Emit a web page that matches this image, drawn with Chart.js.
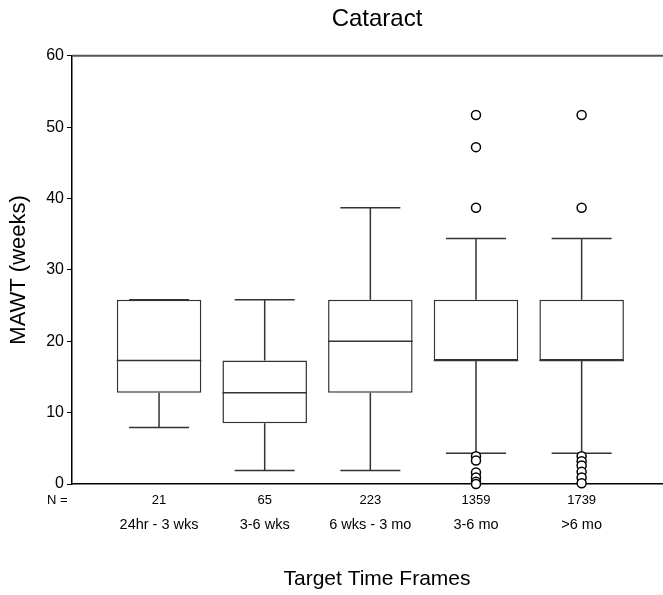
<!DOCTYPE html>
<html>
<head>
<meta charset="utf-8">
<script src="https://cdn.jsdelivr.net/npm/chart.js@4/dist/chart.umd.min.js"></script>
<style>
  html, body { margin: 0; padding: 0; background: #fff; overflow: hidden; }
  #wrap { width: 688px; height: 595px; }
</style>
</head>
<body>
<div id="wrap"><canvas id="c" width="688" height="595"></canvas></div>
<script>
const categories = ['24hr - 3 wks', '3-6 wks', '6 wks - 3 mo', '3-6 mo', '>6 mo'];
const counts = ['21', '65', '223', '1359', '1739'];
const whiskerLow  = [7.9, 1.9, 1.9, 4.3, 4.3];
const q1          = [12.8, 8.5, 12.8, 17.3, 17.3];
const median      = [17.3, 12.8, 20.0, 17.3, 17.3];
const q3          = [25.8, 17.3, 25.8, 25.8, 25.8];
const whiskerHigh = [25.8, 25.8, 38.7, 34.4, 34.4];
const outliers = [
  [],
  [],
  [],
  [51.7, 47.2, 38.7, 3.9, 3.3, 1.6, 0.9, 0.3, 0.0],
  [51.7, 38.7, 3.9, 3.2, 2.6, 1.7, 0.9, 0.1]
];
const yTicks = [0, 10, 20, 30, 40, 50, 60];

Chart.defaults.font.family = "'Liberation Sans', Arial, sans-serif";
Chart.defaults.color = '#000';

const boxData = categories.map((c, i) => ({ x: i + 1, y: [q1[i], q3[i]] }));
const outlierData = [];
outliers.forEach((arr, i) => arr.forEach(v => outlierData.push({ x: i + 1, y: v })));

const LINE = '#333';

const boxPlugin = {
  id: 'boxParts',
  afterDatasetDraw(chart, args) {
    if (args.index !== 0) return;
    const ctx = chart.ctx;
    const y = chart.scales.y;
    const meta = chart.getDatasetMeta(0);
    ctx.save();
    ctx.strokeStyle = LINE;
    ctx.lineWidth = 1.5;
    meta.data.forEach((el, i) => {
      const cx = el.x;
      const half = el.width / 2;
      const capHalf = el.width * 0.355;
      ctx.beginPath();
      ctx.moveTo(cx - half, y.getPixelForValue(median[i]));
      ctx.lineTo(cx + half, y.getPixelForValue(median[i]));
      ctx.moveTo(cx, y.getPixelForValue(q3[i]));
      ctx.lineTo(cx, y.getPixelForValue(whiskerHigh[i]));
      ctx.moveTo(cx - capHalf, y.getPixelForValue(whiskerHigh[i]));
      ctx.lineTo(cx + capHalf, y.getPixelForValue(whiskerHigh[i]));
      ctx.moveTo(cx, y.getPixelForValue(q1[i]));
      ctx.lineTo(cx, y.getPixelForValue(whiskerLow[i]));
      ctx.moveTo(cx - capHalf, y.getPixelForValue(whiskerLow[i]));
      ctx.lineTo(cx + capHalf, y.getPixelForValue(whiskerLow[i]));
      ctx.stroke();
    });
    ctx.restore();
  },
  afterDraw(chart) {
    const ctx = chart.ctx;
    const a = chart.chartArea;
    ctx.save();
    ctx.strokeStyle = '#555';
    ctx.lineWidth = 2;
    ctx.beginPath();
    ctx.moveTo(a.left, a.top);
    ctx.lineTo(a.right, a.top);
    ctx.stroke();
    const xs = chart.scales.x;
    ctx.fillStyle = '#000';
    ctx.font = "13px 'Liberation Sans', Arial, sans-serif";
    ctx.textAlign = 'left';
    ctx.textBaseline = 'middle';
    ctx.fillText('N =', 47, xs.top + 9 + 7.8);
    ctx.restore();
  }
};

const tickList = (scale) => { scale.ticks = categories.map((c, i) => ({ value: i + 1 })); };

new Chart(document.getElementById('c'), {
  type: 'bar',
  data: {
    datasets: [
      {
        type: 'bar',
        data: boxData,
        backgroundColor: '#fff',
        borderColor: LINE,
        borderWidth: 1.5,
        borderSkipped: false,
        categoryPercentage: 0.8,
        barPercentage: 1.0,
        order: 2,
        xAxisID: 'x',
        yAxisID: 'y'
      },
      {
        type: 'scatter',
        data: outlierData,
        pointStyle: 'circle',
        pointRadius: 4.5,
        pointBorderWidth: 1.5,
        pointBackgroundColor: '#fff',
        pointBorderColor: '#000',
        showLine: false,
        clip: false,
        order: 1,
        xAxisID: 'x',
        yAxisID: 'y'
      }
    ]
  },
  options: {
    responsive: false,
    animation: false,
    devicePixelRatio: 1,
    layout: { padding: 0 },
    plugins: {
      legend: { display: false },
      tooltip: { enabled: false },
      title: {
        display: true,
        text: 'Cataract',
        fullSize: false,
        font: { size: 24, weight: 'normal' },
        color: '#000',
        padding: { top: 5, bottom: 22 }
      }
    },
    scales: {
      x: {
        type: 'linear',
        position: 'bottom',
        offset: false,
        min: 0.176,
        max: 5.95,
        afterBuildTicks: tickList,
        afterFit: (s) => { s.height = 28; },
        grid: { display: false, drawTicks: false, tickLength: 0, offset: false },
        border: { display: true, color: '#000', width: 1.5 },
        ticks: {
          autoSkip: false, maxRotation: 0, padding: 9,
          font: { size: 13 },
          callback: (v) => counts[v - 1]
        }
      },
      x2: {
        type: 'linear',
        position: 'bottom',
        offset: false,
        min: 0.176,
        max: 5.95,
        afterBuildTicks: tickList,
        afterFit: (s) => { s.height = 83; },
        grid: { display: false, drawTicks: false, tickLength: 0, offset: false },
        border: { display: false },
        ticks: {
          autoSkip: false, maxRotation: 0, padding: 4,
          font: { size: 14.5 },
          callback: (v) => categories[v - 1]
        },
        title: {
          display: true,
          text: 'Target Time Frames',
          font: { size: 21 },
          padding: { top: 0, bottom: 3 }
        }
      },
      y: {
        type: 'linear',
        min: 0,
        max: 60,
        afterBuildTicks: (s) => { s.ticks = yTicks.map(v => ({ value: v })); },
        afterFit: (s) => { s.width = 72; },
        grid: { display: true, drawOnChartArea: false, drawTicks: true, tickLength: 5, color: '#000', lineWidth: 1 },
        border: { display: true, color: '#000', width: 1.5 },
        ticks: { padding: 3, font: { size: 16 } },
        title: {
          display: true,
          text: 'MAWT (weeks)',
          font: { size: 22 },
          padding: { top: 6, bottom: 0 }
        }
      }
    }
  },
  plugins: [boxPlugin]
});
</script>
</body>
</html>
